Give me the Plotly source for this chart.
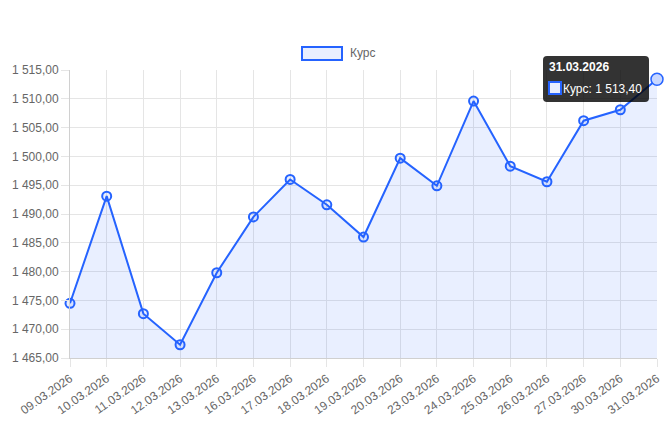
import plotly.graph_objects as go

dates = ["09.03.2026", "10.03.2026", "11.03.2026", "12.03.2026", "13.03.2026",
         "16.03.2026", "17.03.2026", "18.03.2026", "19.03.2026", "20.03.2026",
         "23.03.2026", "24.03.2026", "25.03.2026", "26.03.2026", "27.03.2026",
         "30.03.2026", "31.03.2026"]
rates = [1474.5, 1493.1, 1472.7, 1467.3, 1479.8,
         1489.5, 1496.0, 1491.6, 1486.0, 1499.7,
         1494.9, 1509.6, 1498.3, 1495.6, 1506.2,
         1508.1, 1513.4]
series_name = "Курс"
y_ticks = [1465, 1470, 1475, 1480, 1485, 1490, 1495, 1500, 1505, 1510, 1515]

LINE = "#2563ff"
FILL = "rgba(37,99,255,0.10)"
GRID = "#e5e5e5"
FONT = "Liberation Sans, Arial, sans-serif"

fig = go.Figure()
fig.add_trace(go.Scatter(
    x=dates, y=rates, name=series_name, mode="lines+markers",
    line=dict(color=LINE, width=2),
    fill="tozeroy", fillcolor=FILL,
    marker=dict(size=9, color="rgba(37,99,255,0.10)", line=dict(color=LINE, width=2)),
    showlegend=False, hoverinfo="skip", cliponaxis=False,
))
# hovered last point
fig.add_trace(go.Scatter(
    x=dates[-1:], y=rates[-1:], mode="markers",
    marker=dict(size=12, color="rgba(200,215,255,1)", line=dict(color=LINE, width=1.5)),
    showlegend=False, hoverinfo="skip", cliponaxis=False,
))

OFF = 8  # page body margin
SW, SH = 672, 425
# plot area in screen pixels
PL, PR, PT, PB = 70, 657, 70, 358
W, H = SW - OFF, SH - OFF
L, T = PL - OFF, PT - OFF
R, B = W - (PR - OFF), H - (PB - OFF)
pw, ph = PR - PL, PB - PT

def px(x):
    return (x - PL) / pw

def py(y):
    return 1 - (y - PT) / ph

def fmt(v):
    s = f"{v:,.2f}"
    return s.replace(",", " ").replace(".", ",")

shapes = [
    # legend swatch
    dict(type="rect", xref="paper", yref="paper",
         x0=px(302), x1=px(342), y0=py(60), y1=py(47),
         fillcolor="rgba(37,99,255,0.10)", line=dict(color=LINE, width=2)),
    # tooltip box
    dict(type="path", xref="paper", yref="paper",
         path=(f"M {px(547)},{py(56)} L {px(645)},{py(56)} Q {px(649)},{py(56)} {px(649)},{py(60)} "
               f"L {px(649)},{py(98)} Q {px(649)},{py(102)} {px(645)},{py(102)} "
               f"L {px(547)},{py(102)} Q {px(543)},{py(102)} {px(543)},{py(98)} "
               f"L {px(543)},{py(60)} Q {px(543)},{py(56)} {px(547)},{py(56)} Z"),
         fillcolor="rgba(0,0,0,0.8)", line=dict(width=0)),
    # tooltip swatch
    dict(type="rect", xref="paper", yref="paper",
         x0=px(549), x1=px(561), y0=py(94), y1=py(82),
         fillcolor="#e8eeff", line=dict(color=LINE, width=2)),
]

annotations = [
    dict(xref="paper", yref="paper", x=px(348), y=py(53.5), xanchor="left", yanchor="middle",
         text=series_name, showarrow=False, font=dict(size=12, color="#666", family=FONT)),
    dict(xref="paper", yref="paper", x=px(547), y=py(67), xanchor="left", yanchor="middle",
         text="<b>" + dates[-1] + "</b>", showarrow=False,
         font=dict(size=12, color="white", family=FONT)),
    dict(xref="paper", yref="paper", x=px(561), y=py(88.5), xanchor="left", yanchor="middle",
         text=series_name + ": " + fmt(rates[-1]), showarrow=False,
         font=dict(size=12, color="white", family=FONT)),
]

fig.update_layout(
    width=W, height=H,
    margin=dict(l=L, r=R, t=T, b=B),
    paper_bgcolor="white", plot_bgcolor="white",
    separators=", ",
    font=dict(family=FONT, size=12, color="#666"),
    shapes=shapes, annotations=annotations,
    xaxis=dict(type="category", range=[0, len(dates) - 1], tickangle=-35,
               automargin=False,
               showgrid=True, gridcolor=GRID, gridwidth=1,
               ticks="outside", ticklen=8, tickcolor=GRID,
               showline=True, linecolor="#d0d0d0", zeroline=False,
               tickfont=dict(size=12, color="#666")),
    yaxis=dict(range=[1465, 1515], tickvals=y_ticks, tickformat=",.2f",
               automargin=False,
               showgrid=True, gridcolor=GRID, gridwidth=1,
               ticks="outside", ticklen=8, tickcolor=GRID,
               showline=True, linecolor="#d0d0d0", zeroline=False,
               tickfont=dict(size=12, color="#666")),
)

fig.write_html("out.html")
